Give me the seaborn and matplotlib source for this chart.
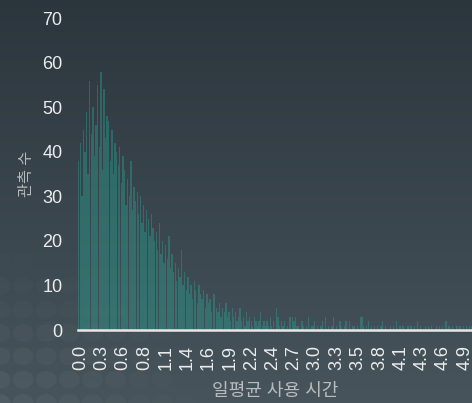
import numpy as np
import pandas as pd
import matplotlib.pyplot as plt
import seaborn as sns
from matplotlib.patches import Circle

# counts per 0.02h bin, 0.00 .. 4.98
counts = [
    47, 38, 42, 30, 45, 40, 49, 35, 56, 44,
    50, 39, 46, 55, 41, 58, 36, 54, 43, 48,
    47, 38, 45, 35, 42, 40, 37, 41, 33, 39,
    36, 28, 34, 30, 38, 27, 32, 29, 31, 26,
    30, 24, 28, 22, 27, 25, 21, 26, 23, 20,
    22, 18, 24, 17, 20, 15, 19, 16, 21, 14,
    17, 13, 15, 11, 14, 12, 18, 10, 13, 9,
    12, 8, 10, 7, 11, 9, 6, 10, 8, 7,
    9, 5, 8, 6, 7, 4, 8, 8, 5, 4,
    6, 3, 5, 4, 6, 3, 4, 2, 5, 3,
    4, 2, 3, 5, 2, 3, 1, 4, 2, 3,
    2, 1, 3, 2, 1, 2, 4, 1, 2, 1,
    2, 1, 3, 1, 2, 0, 5, 3, 1, 2,
    1, 2, 0, 1, 3, 3, 3, 2, 3, 1,
    1, 0, 2, 1, 0, 1, 3, 0, 1, 1,
    2, 0, 1, 0, 1, 2, 0, 3, 0, 1,
    0, 1, 3, 0, 1, 0, 2, 1, 0, 1,
    2, 0, 2, 0, 1, 1, 0, 1, 0, 3,
    3, 1, 0, 1, 2, 0, 1, 0, 1, 0,
    1, 0, 1, 2, 0, 1, 0, 0, 1, 0,
    1, 0, 2, 0, 1, 0, 1, 0, 0, 1,
    0, 1, 0, 1, 0, 2, 0, 1, 0, 0,
    1, 0, 1, 0, 1, 0, 0, 1, 0, 1,
    0, 1, 0, 2, 0, 1, 0, 1, 0, 0,
    1, 0, 1, 0, 1, 0, 1, 0, 1, 1,
]
hours = ["%.2f" % (i * 0.02) for i in range(len(counts))]
tick_labels = ["0.0", "0.3", "0.6", "0.8", "1.1", "1.4", "1.6", "1.9", "2.2", "2.4",
               "2.7", "3.0", "3.3", "3.5", "3.8", "4.1", "4.3", "4.6", "4.9"]

df = pd.DataFrame({"hours": hours, "count": counts})

sns.set_style("white")
plt.rcParams["font.family"] = ["Liberation Sans", "Noto Sans CJK KR", "DejaVu Sans"]

fig = plt.figure(figsize=(4.72, 4.03), dpi=100)

# background gradient + dot decoration
bg = fig.add_axes([0, 0, 1, 1], zorder=0)
top = np.array([0.17, 0.21, 0.24])
bot = np.array([0.28, 0.33, 0.36])
t = np.linspace(0, 1, 200)[:, None]
grad = top + (bot - top) * t
grad = np.repeat(grad[:, None, :], 2, axis=1)
bg.imshow(grad, aspect="auto", extent=[0, 1, 0, 1], origin="upper")
for i in range(10):
    for j in range(8):
        cx = 0.0 + i * 0.049
        cy = 0.0 + j * 0.058
        d = np.hypot(cx / 0.45, cy / 0.40)
        if d < 1.0:
            bg.add_patch(Circle((cx, cy), 0.022, transform=bg.transAxes,
                                color="white", alpha=0.05 * (1 - d), lw=0))
bg.set_xlim(0, 1)
bg.set_ylim(0, 1)
bg.axis("off")

ax = fig.add_axes([0.165, 0.181, 0.835, 0.774], zorder=1)
ax.patch.set_alpha(0)
sns.barplot(data=df, x="hours", y="count", color="#2a9d8f", saturation=1,
            width=0.85, alpha=0.45, linewidth=0, ax=ax)

ax.set_xlim(0.5, len(counts) - 0.5)
ax.set_ylim(0, 70)
ax.set_xticks(np.linspace(2, 245, len(tick_labels)))
ax.set_xticklabels(tick_labels, rotation=90)
ax.set_yticks(range(0, 71, 10))
ax.tick_params(axis="both", length=0, colors="#ececec", labelsize=13)
ax.tick_params(axis="y", pad=11)
ax.tick_params(axis="x", pad=11)

for s in ["top", "right", "left"]:
    ax.spines[s].set_visible(False)
ax.spines["bottom"].set_color("#e8e8e8")
ax.spines["bottom"].set_linewidth(1.8)

ax.set_xlabel("일평균 사용 시간", color="#b8bcbf", fontsize=13, labelpad=9)
ax.set_ylabel("관측 수", color="#b8bcbf", fontsize=11, labelpad=6)

fig.savefig("out.png", dpi=100)
